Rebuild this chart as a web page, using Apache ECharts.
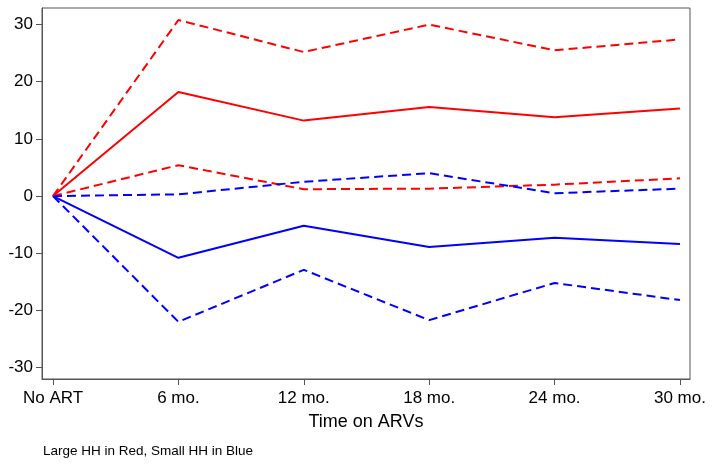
<!DOCTYPE html>
<html>
<head>
<meta charset="utf-8">
<script src="https://cdn.jsdelivr.net/npm/echarts@6/dist/echarts.min.js"></script>
<style>html,body{margin:0;padding:0;background:#fff;}#c{width:714px;height:466px;}</style>
</head>
<body>
<div id="c"></div>
<script>
var categories = ["No ART", "6 mo.", "12 mo.", "18 mo.", "24 mo.", "30 mo."];
var yTicks = [-30, -20, -10, 0, 10, 20, 30];
var largeUpper = [0, 30.8, 25.2, 30.0, 25.5, 27.4];
var largeMean  = [0, 18.2, 13.2, 15.6, 13.8, 15.3];
var largeLower = [0, 5.4, 1.2, 1.3, 2.0, 3.1];
var smallUpper = [0, 0.3, 2.5, 4.0, 0.5, 1.3];
var smallMean  = [0, -10.8, -5.2, -8.9, -7.3, -8.4];
var smallLower = [0, -22.0, -12.9, -21.7, -15.2, -18.2];

function pts(arr){ return arr.map(function(v,i){ return [i, v]; }); }
var xIdx = categories.map(function(c,i){ return i; });
var font = 'Liberation Sans, Arial, sans-serif';
var axisColor = '#555';

function line(name, data, color, dashed){
  return {
    name: name, type: 'line', data: pts(data), symbol: 'none', animation: false,
    lineStyle: { color: color, width: 2, type: dashed ? [9, 5] : 'solid' },
    z: dashed ? 2 : 3
  };
}

var chart = echarts.init(document.getElementById('c'));
chart.setOption({
  animation: false,
  backgroundColor: '#fff',
  title: {
    text: 'Large HH in Red, Small HH in Blue',
    left: 43, top: 444, padding: 0,
    textStyle: { fontFamily: font, fontSize: 13.5, fontWeight: 'normal', color: '#000' }
  },
  grid: {
    left: 42, right: 24, top: 8, bottom: 87,
    show: true, borderColor: axisColor, borderWidth: 1, backgroundColor: '#fff'
  },
  xAxis: {
    type: 'value', min: -0.0877, max: 5.08,
    name: 'Time on ARVs', nameLocation: 'middle', nameGap: 34,
    nameTextStyle: { fontFamily: font, fontSize: 18, color: '#000' },
    splitLine: { show: false },
    axisLine: { show: true, onZero: false, lineStyle: { color: axisColor, width: 1 } },
    axisTick: { show: true, length: 6, customValues: xIdx, lineStyle: { color: axisColor } },
    axisLabel: {
      customValues: xIdx, margin: 11,
      fontFamily: font, fontSize: 17, color: '#000',
      formatter: function(v){ return categories[Math.round(v)]; }
    }
  },
  yAxis: {
    type: 'value', min: -32.0, max: 32.9,
    splitLine: { show: false },
    axisLine: { show: true, onZero: false, lineStyle: { color: axisColor, width: 1 } },
    axisTick: { show: true, length: 6, customValues: yTicks, lineStyle: { color: axisColor } },
    axisLabel: {
      customValues: yTicks, margin: 9,
      fontFamily: font, fontSize: 17, color: '#000'
    }
  },
  series: [
    line('Large upper', largeUpper, '#ff0000', true),
    line('Large mean', largeMean, '#ff0000', false),
    line('Large lower', largeLower, '#ff0000', true),
    line('Small upper', smallUpper, '#0000ff', true),
    line('Small mean', smallMean, '#0000ff', false),
    line('Small lower', smallLower, '#0000ff', true)
  ]
});
</script>
</body>
</html>
